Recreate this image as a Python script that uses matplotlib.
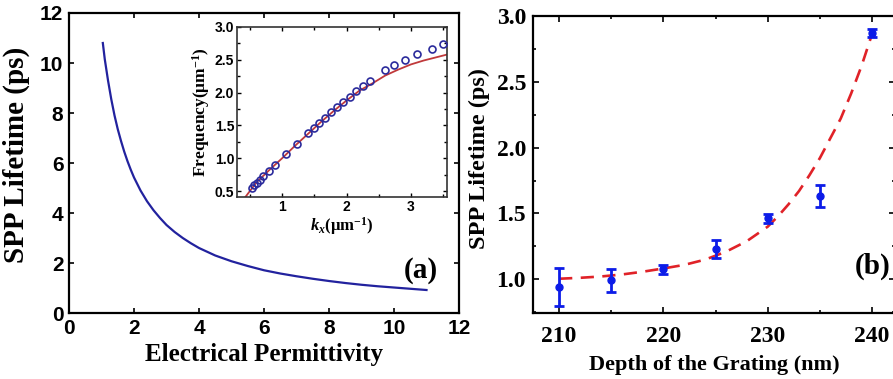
import matplotlib
matplotlib.use("Agg")
import matplotlib.pyplot as plt
from matplotlib.ticker import MultipleLocator

plt.rcParams['mathtext.fontset'] = 'custom'
plt.rcParams['mathtext.rm'] = 'Liberation Serif:bold'
plt.rcParams['mathtext.it'] = 'Liberation Serif:italic:bold'
plt.rcParams['mathtext.bf'] = 'Liberation Serif:bold'

# ---- Panel (a): lifetime vs permittivity ----
eps_x = [1.04, 1.1, 1.2, 1.3, 1.4, 1.5, 1.6, 1.7, 1.8, 1.9, 2.0, 2.2, 2.4, 2.6,
         2.8, 3.0, 3.25, 3.5, 3.75, 4.0, 4.5, 5.0, 5.5, 6.0, 6.5, 7.0, 7.5, 8.0,
         8.5, 9.0, 9.5, 10.0, 10.5, 11.0]
life_a = [10.8, 10.15, 9.3, 8.55, 7.9, 7.35, 6.88, 6.45, 6.07, 5.73, 5.42, 4.9,
          4.47, 4.11, 3.8, 3.52, 3.24, 3.0, 2.79, 2.6, 2.3, 2.07, 1.88, 1.71, 1.58,
          1.47, 1.37, 1.28, 1.2, 1.13, 1.07, 1.02, 0.97, 0.92]

# ---- Inset: dispersion ----
kx_pts = [0.53, 0.565, 0.61, 0.66, 0.71, 0.79, 0.89, 1.06, 1.23, 1.40, 1.49, 1.58,
          1.67, 1.76, 1.85, 1.95, 2.05, 2.15, 2.25, 2.37, 2.60, 2.74, 2.90, 3.10,
          3.32, 3.50]
freq_pts = [0.54, 0.59, 0.63, 0.67, 0.73, 0.80, 0.90, 1.07, 1.22, 1.38, 1.46, 1.54,
            1.62, 1.70, 1.78, 1.86, 1.94, 2.02, 2.10, 2.18, 2.34, 2.42, 2.50, 2.59,
            2.66, 2.74]
kx_line = [0.43, 0.6, 0.8, 1.0, 1.2, 1.4, 1.6, 1.8, 2.0, 2.2, 2.4, 2.6, 2.8, 3.0,
           3.2, 3.4, 3.56]
freq_line = [0.41, 0.63, 0.82, 1.0, 1.19, 1.37, 1.55, 1.72, 1.88, 2.03, 2.14, 2.26,
             2.35, 2.43, 2.49, 2.54, 2.58]

# ---- Panel (b): lifetime vs grating depth ----
depth = [210, 215, 220, 225, 230, 235, 240]
life_b = [0.945, 0.995, 1.076, 1.23, 1.463, 1.632, 2.866]
life_b_err = [0.145, 0.087, 0.032, 0.067, 0.035, 0.082, 0.031]
fit_x = [210, 212, 214, 216, 218, 220, 222, 224, 226, 228, 230, 231, 232, 233,
         234, 235, 236, 237, 238, 239, 240]
fit_y = [1.005, 1.012, 1.022, 1.037, 1.058, 1.083, 1.11, 1.15, 1.21, 1.29, 1.40,
         1.48, 1.57, 1.67, 1.79, 1.92, 2.07, 2.22, 2.41, 2.62, 2.86]

SERIF = 'Liberation Serif'
SANS = 'Liberation Sans'

fig = plt.figure(figsize=(8.93, 3.79), dpi=100)

# Panel (a)
axa = fig.add_axes([0.0773, 0.1741, 0.4367, 0.7916])
axa.plot(eps_x, life_a, color='#22229e', lw=1.6)
axa.set_xlim(0, 12)
axa.set_ylim(0, 12)
axa.xaxis.set_major_locator(MultipleLocator(2))
axa.yaxis.set_major_locator(MultipleLocator(2))
axa.tick_params(direction='in', top=True, right=True, length=3.5, width=1.2,
                labelsize=15, pad=4)
for lab in axa.get_xticklabels() + axa.get_yticklabels():
    lab.set_fontfamily(SANS)
    lab.set_fontweight('bold')
for s in axa.spines.values():
    s.set_linewidth(1.6)
axa.set_xlabel('Electrical Permittivity', fontfamily=SERIF, fontweight='bold',
               fontsize=18, labelpad=4)
axa.set_ylabel('SPP Lifetime (ps)', fontfamily=SERIF, fontweight='bold',
               fontsize=21)
axa.yaxis.set_label_coords(-0.10, 0.527)
axa.text(0.9026, 0.143, '(a)', transform=axa.transAxes, ha='center', va='center',
         fontfamily=SERIF, fontweight='bold', fontsize=21)

# Inset
axi = fig.add_axes([0.2654, 0.4802, 0.2352, 0.4486])
axi.plot(kx_line, freq_line, color='#c0393b', lw=1.3, zorder=2)
axi.plot(kx_pts, freq_pts, linestyle='none', marker='o', ms=5, mfc='none',
         mec='#2b2b9c', mew=1.2, zorder=3)
axi.set_xlim(0.30, 3.56)
axi.set_ylim(0.41, 3.0)
axi.xaxis.set_major_locator(MultipleLocator(1))
axi.xaxis.set_minor_locator(MultipleLocator(0.5))
axi.yaxis.set_major_locator(MultipleLocator(0.5))
axi.yaxis.set_minor_locator(MultipleLocator(0.25))
axi.tick_params(which='both', direction='in', top=True, right=True, width=1.0)
axi.tick_params(which='major', length=3, labelsize=10, pad=2)
axi.tick_params(which='minor', length=2)
for lab in axi.get_xticklabels() + axi.get_yticklabels():
    lab.set_fontfamily(SANS)
    lab.set_fontweight('bold')
for s in axi.spines.values():
    s.set_linewidth(1.2)
    s.set_color('#333333')
axi.set_xlabel(r'$k_x$(μm$^{-1}$)', fontfamily=SERIF, fontweight='bold',
               fontsize=12, labelpad=1)
axi.set_ylabel(r'Frequency(μm$^{-1}$)', fontfamily=SERIF, fontweight='bold',
               fontsize=12.5, labelpad=2)

# Panel (b)
axb = fig.add_axes([0.5969, 0.1741, 0.4053, 0.7845])
axb.plot(fit_x, fit_y, color='#e02228', lw=1.9, linestyle=(0, (5, 3.2)), zorder=2)
axb.errorbar(depth, life_b, yerr=life_b_err, fmt='o', color='#0c1ce8', ms=5,
             elinewidth=2, capsize=3.5, capthick=2, zorder=3)
axb.set_xlim(207.5, 242.2)
axb.set_ylim(0.745, 3.0)
axb.xaxis.set_major_locator(MultipleLocator(10))
axb.xaxis.set_minor_locator(MultipleLocator(5))
axb.yaxis.set_major_locator(MultipleLocator(0.5))
axb.yaxis.set_minor_locator(MultipleLocator(0.25))
axb.tick_params(which='both', direction='in', top=True, right=True, width=1.2)
axb.tick_params(which='major', length=4, labelsize=17, pad=5)
axb.tick_params(which='minor', length=2.5)
axb.tick_params(axis='x', which='major', pad=9)
for lab in axb.get_xticklabels() + axb.get_yticklabels():
    lab.set_fontfamily(SERIF)
    lab.set_fontweight('bold')
for s in axb.spines.values():
    s.set_linewidth(1.6)
axb.set_xlabel('Depth of the Grating (nm)', fontfamily=SERIF, fontweight='bold',
               fontsize=16, labelpad=6)
axb.set_ylabel('SPP Lifetime (ps)', fontfamily=SERIF, fontweight='bold',
               fontsize=17.5)
axb.yaxis.set_label_coords(-0.118, 0.52)
axb.text(0.889, 0.158, '(b)', transform=axb.transAxes, ha='left', va='center',
         fontfamily=SERIF, fontweight='bold', fontsize=21)

fig.savefig('out.png', dpi=100)
